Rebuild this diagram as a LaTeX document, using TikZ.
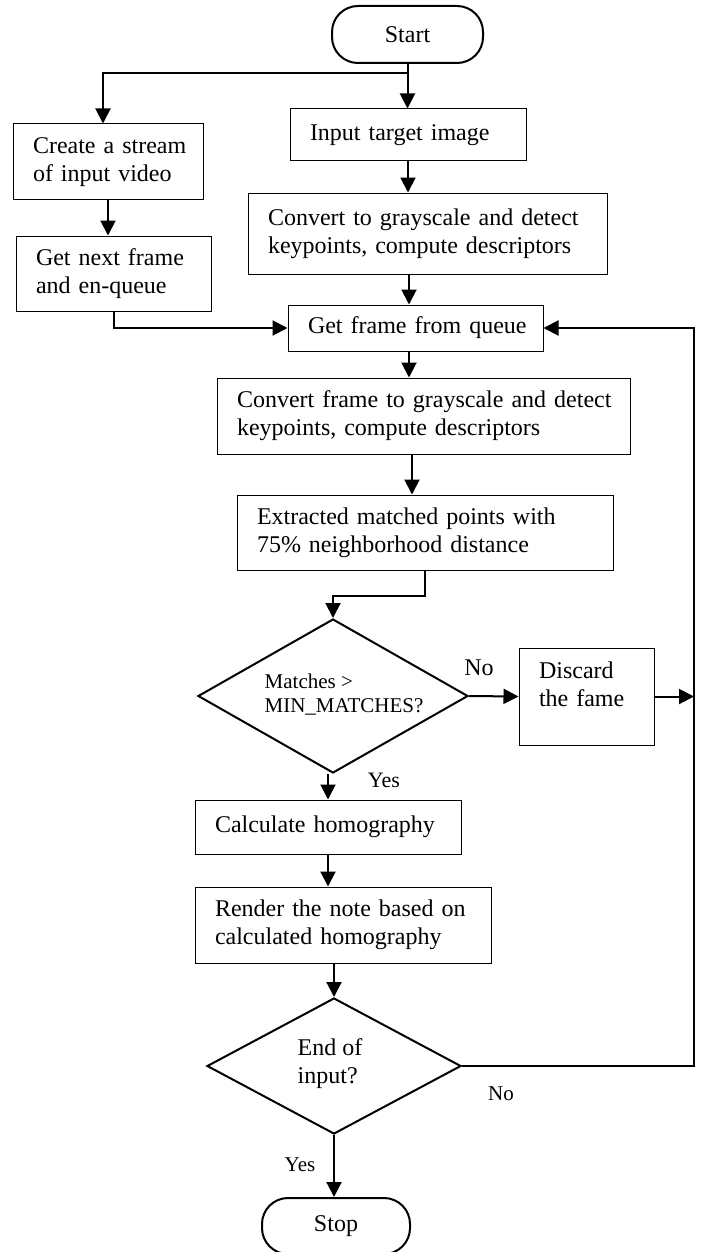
\documentclass[tikz,border=0pt]{standalone}
\usepackage{fontspec}
\setmainfont{Liberation Serif}
\usetikzlibrary{arrows.meta,shapes.geometric}
\newcommand{\lns}[1]{\begin{tabular}{@{}l@{}}#1\end{tabular}}
\begin{document}
\begin{tikzpicture}[x=0.5pt,y=-0.5pt,
  box/.style 2 args={draw, rectangle, line width=0.5pt, align=left, inner xsep=10pt, inner ysep=0pt, text width=#1, minimum height=#2, font=\fontsize{12}{14}\selectfont},
  term/.style 2 args={draw, line width=1pt, rounded corners=13pt, minimum width=#1, minimum height=#2, inner sep=0pt, font=\fontsize{12}{14}\selectfont},
  dia/.style 2 args={draw, shape=diamond, line width=1pt, minimum width=#1, minimum height=#2, inner sep=0pt},
  dtext/.style={align=left, inner sep=0pt, font=\fontsize{10.5}{12}\selectfont},
  lbl/.style={inner sep=0pt, font=\fontsize{12}{14}\selectfont},
  slbl/.style={inner sep=0pt, font=\fontsize{10.5}{12}\selectfont},
  arr/.style={line width=1pt, -{Triangle[length=7.5pt,width=7.5pt]}},
  conn/.style={line width=1pt}]
\useasboundingbox (0,0) rectangle (701,1252);

\node[term={75.5pt}{28.5pt}] (start) at (407.5,34.5) {Start};
\node[box={98pt}{25.5pt}] (input) at (408,134.5) {\lns{Input target image}};
\node[box={75pt}{37.5pt}] (create) at (108,161.5) {\lns{Create a stream\\of input video}};
\node[box={77.5pt}{37.5pt}] (getnext) at (113.5,273.5) {\lns{Get next frame\\and en-queue}};
\node[box={159.5pt}{40.5pt}] (conv1) at (427.5,233.5) {\lns{Convert to grayscale and detect\\keypoints, compute descriptors}};
\node[box={107.5pt}{23pt}] (getframe) at (415.5,328) {\lns{Get frame from queue}};
\node[box={186.5pt}{38pt}] (conv2) at (423.5,416) {\lns{Convert frame to grayscale and detect\\keypoints, compute descriptors}};
\node[box={168pt}{37.5pt}] (extract) at (425,532.5) {\lns{Extracted matched points with\\75\% neighborhood distance}};
\node[dia={135pt}{77pt}] (d1) at (333,696) {};
\node[dtext] (d1t) at (344,695) {Matches >\\MIN\_MATCHES?};
\node[box={47.5pt}{48.5pt}] (discard) at (586.5,696.5) {\lns{Discard\\the fame\\[10pt]}};
\node[box={113pt}{27pt}] (calc) at (328,827) {\lns{Calculate homography}};
\node[box={128pt}{38pt}] (render) at (343,925) {\lns{Render the note based on\\calculated homography}};
\node[dia={127pt}{68pt}] (d2) at (334,1066) {};
\node[dtext, font=\fontsize{12}{14}\selectfont] (d2t) at (330,1064) {End of\\input?};
\node[term={74pt}{28pt}] (stop) at (336,1226) {Stop};

\node[lbl] (no1) at (479,668) {No};
\node[lbl, font=\fontsize{11}{13}\selectfont] (yes1) at (384,780) {Yes};
\node[slbl] (no2) at (501,1094) {No};
\node[slbl] (yes2) at (300,1165) {Yes};

\coordinate (br) at (407.5,73);
\coordinate (brL) at (103,73);
\coordinate (fbx) at (694,0);
\coordinate (colA) at (409,0);
\coordinate (colB) at (412,0);

\draw[conn] (start.south) -- (br);
\draw[arr] (br) -- (brL) -- (brL |- create.north);
\draw[arr] (br) -- (br |- input.north);
\draw[arr] (create.south) -- (create.south |- getnext.north);
\draw[arr] (input.south) -- (input.south |- conv1.north);
\draw[arr] (conv1.south -| colA) -- (getframe.north -| colA);
\draw[arr] (getnext.south) |- (getframe.west);
\draw[arr] (getframe.south -| colA) -- (conv2.north -| colA);
\draw[arr] (conv2.south -| colB) -- (extract.north -| colB);
\draw[arr] (extract.south) -- ++(0,25) -| (d1.north);
\draw[arr] (d1.east) -- (discard.west);
\draw[arr] (discard.east) -- (discard.east -| fbx);
\draw[arr] (d2.east) -- (d2.east -| fbx) -- (getframe.east -| fbx) -- (getframe.east);
\draw[arr] (d1.south -| calc.north) -- (calc.north);
\draw[arr] (calc.south) -- (calc.south |- render.north);
\draw[arr] (render.south -| d2.north) -- (d2.north);
\draw[arr] (d2.south) -- (d2.south |- stop.north);
\end{tikzpicture}
\end{document}
